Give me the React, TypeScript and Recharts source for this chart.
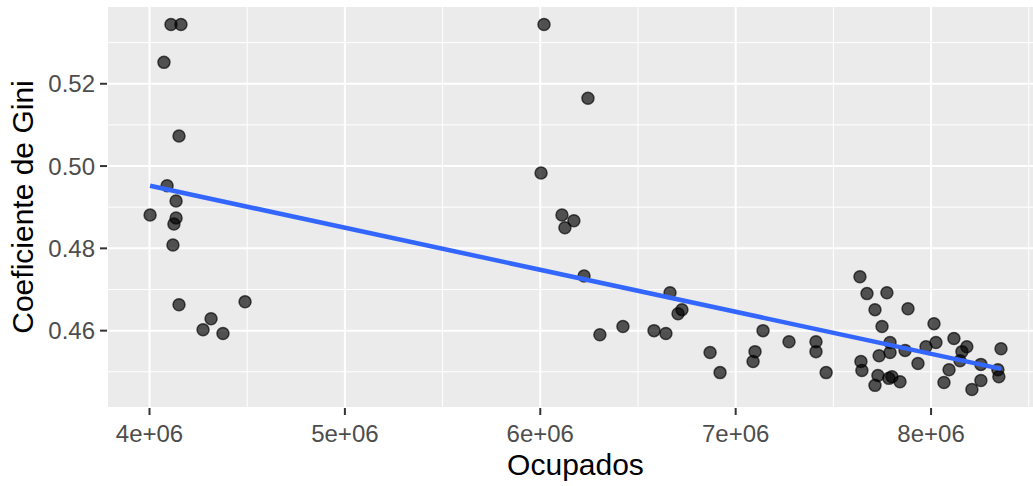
import React from "react";
import {
  ScatterChart,
  Scatter,
  XAxis,
  YAxis,
  CartesianGrid,
} from "recharts";

// Ocupados (x) e Coeficiente de Gini (y)
const ocupados = [
  4.110e6, 4.161e6, 4.074e6, 4.151e6, 4.090e6, 4.136e6, 4.003e6, 4.136e6,
  4.125e6, 4.120e6, 4.151e6, 4.489e6, 4.315e6, 4.274e6, 4.376e6,
  6.019e6, 6.244e6, 6.004e6, 6.111e6, 6.172e6, 6.126e6, 6.224e6, 6.305e6,
  6.423e6, 6.582e6, 6.643e6, 6.664e6, 6.725e6, 6.705e6, 6.869e6, 6.920e6,
  7.140e6, 7.099e6, 7.089e6, 7.273e6, 7.411e6, 7.411e6, 7.463e6,
  7.636e6, 7.672e6, 7.774e6, 7.713e6, 7.882e6, 7.749e6, 8.015e6, 7.790e6,
  7.790e6, 7.734e6, 7.867e6, 7.974e6, 8.025e6, 8.117e6, 8.183e6, 8.158e6,
  8.148e6, 7.933e6, 7.641e6, 7.646e6, 7.728e6, 7.784e6, 7.800e6, 7.841e6,
  7.713e6, 8.092e6, 8.066e6, 8.209e6, 8.255e6, 8.255e6, 8.342e6, 8.347e6,
  8.358e6,
];

const gini = [
  0.5344, 0.5344, 0.5252, 0.5073, 0.4952, 0.4915, 0.4881, 0.4874,
  0.4859, 0.4808, 0.4663, 0.467, 0.4629, 0.4602, 0.4593,
  0.5344, 0.5165, 0.4983, 0.4881, 0.4867, 0.485, 0.4733, 0.459,
  0.461, 0.46, 0.4593, 0.4692, 0.4651, 0.4641, 0.4547, 0.4498,
  0.46, 0.4549, 0.4525, 0.4573, 0.4573, 0.4549, 0.4498,
  0.4731, 0.469, 0.4692, 0.4651, 0.4653, 0.461, 0.4617, 0.4571,
  0.4547, 0.4539, 0.4552, 0.4561, 0.4571, 0.4581, 0.4561, 0.4549,
  0.4527, 0.452, 0.4525, 0.4503, 0.4491, 0.4484, 0.4488, 0.4476,
  0.4467, 0.4505, 0.4474, 0.4457, 0.4518, 0.4479, 0.4505, 0.4488,
  0.4556,
];

// reta de regressão (lm), extremos
const fitX = [4.003e6, 8.358e6];
const fitY = [0.4952, 0.4507];

const xTicks = [4e6, 5e6, 6e6, 7e6, 8e6];
const xMinor = [4.5e6, 5.5e6, 6.5e6, 7.5e6, 8.5e6];
const yTicks = [0.46, 0.48, 0.5, 0.52];
const yMinor = [0.45, 0.47, 0.49, 0.51, 0.53];

const points = ocupados.map((x, i) => ({ x, y: gini[i] }));
const fitLine = fitX.map((x, i) => ({ x, y: fitY[i] }));

const FONT = '"Liberation Sans", Arial, sans-serif';

const Dot = (props: any) => (
  <circle
    cx={props.cx}
    cy={props.cy}
    r={6}
    fill="#000"
    fillOpacity={0.66}
    stroke="#000"
    strokeOpacity={0.66}
    strokeWidth={1.5}
  />
);

const XTitle = (props: any) => {
  const vb = props.viewBox;
  return (
    <text
      x={vb.x + vb.width / 2}
      y={475}
      textAnchor="middle"
      fontSize={30}
      fill="#000"
      fontFamily={FONT}
    >
      Ocupados
    </text>
  );
};

const YTitle = (props: any) => {
  const vb = props.viewBox;
  const cy = vb.y + vb.height / 2;
  return (
    <text
      x={33}
      y={cy}
      transform={`rotate(-90, 33, ${cy})`}
      textAnchor="middle"
      fontSize={30}
      fill="#000"
      fontFamily={FONT}
    >
      Coeficiente de Gini
    </text>
  );
};

export default function App() {
  const tickStyle = { fill: "#4D4D4D", fontSize: 24, fontFamily: FONT };
  return (
    <div
      style={{
        position: "absolute",
        left: 0,
        top: 0,
        width: 1033,
        height: 486,
        overflow: "hidden",
        background: "#fff",
      }}
    >
      <ScatterChart
        width={1044}
        height={486}
        margin={{ top: 6, right: 0, bottom: 0, left: 0 }}
      >
        <CartesianGrid
          fill="#EBEBEB"
          stroke="#fff"
          strokeWidth={1}
          horizontalValues={yMinor}
          verticalValues={xMinor}
        />
        <CartesianGrid stroke="#fff" strokeWidth={2} />
        <XAxis
          type="number"
          dataKey="x"
          domain={[3.7825e6, 8.578e6]}
          allowDataOverflow
          ticks={xTicks}
          tickFormatter={(v: number) => `${v / 1e6}e+06`}
          axisLine={false}
          tickSize={7}
          tickMargin={10}
          tickLine={{ stroke: "#333", strokeWidth: 2 }}
          tick={tickStyle}
          height={78}
          label={<XTitle />}
        />
        <YAxis
          type="number"
          dataKey="y"
          domain={[0.4412, 0.5389]}
          allowDataOverflow
          ticks={yTicks}
          tickFormatter={(v: number) => v.toFixed(2)}
          axisLine={false}
          tickSize={7}
          tickMargin={5}
          tickLine={{ stroke: "#333", strokeWidth: 2 }}
          tick={tickStyle}
          width={107}
          label={<YTitle />}
        />
        <Scatter data={points} shape={<Dot />} isAnimationActive={false} />
        <Scatter
          data={fitLine}
          line={{ stroke: "#3366FF", strokeWidth: 4.5 }}
          shape={() => <g />}
          isAnimationActive={false}
        />
      </ScatterChart>
    </div>
  );
}
